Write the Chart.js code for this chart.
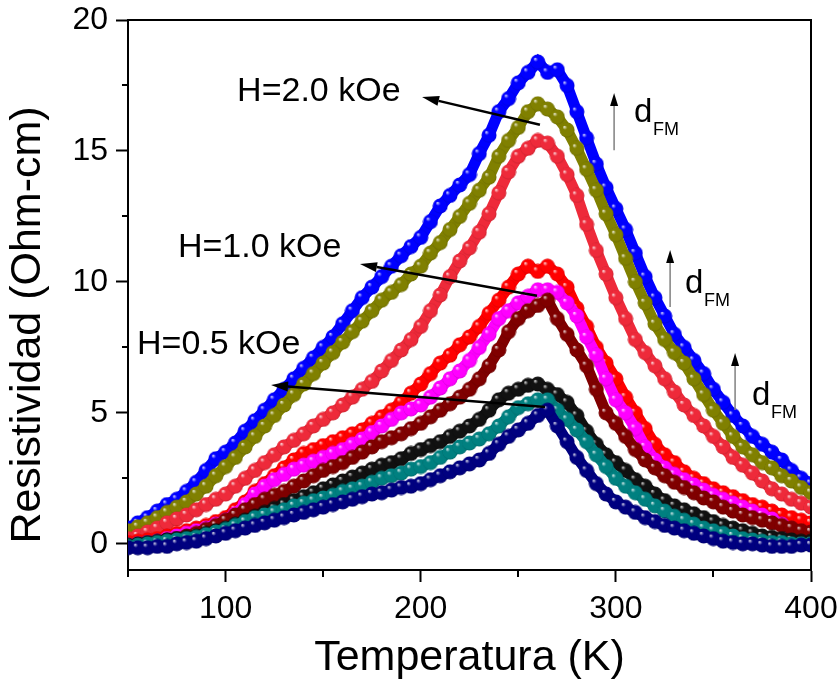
<!DOCTYPE html>
<html>
<head>
<meta charset="utf-8">
<script src="https://cdn.jsdelivr.net/npm/chart.js@4.4.1/dist/chart.umd.min.js"></script>
<style>
  body { margin: 0; background: #fff; }
  #wrap { width: 838px; height: 688px; }
</style>
</head>
<body>
<div id="wrap"><canvas id="rhoChart" width="838" height="688"></canvas></div>
<script>
// temperatures (K)
const tempK = [
  50, 55, 60, 65, 70, 75, 80, 85, 90, 95,
  100, 105, 110, 115, 120, 125, 130, 135, 140, 145,
  150, 155, 160, 165, 170, 175, 180, 185, 190, 195,
  200, 205, 210, 215, 220, 225, 230, 235, 240, 245,
  250, 255, 260, 265, 270, 275, 280, 285, 290, 295,
  300, 305, 310, 315, 320, 325, 330, 335, 340, 345,
  350, 355, 360, 365, 370, 375, 380, 385, 390, 395,
  400
];

// resistivity (Ohm-cm), one array per curve
const rhoBlue = [
  0.6, 0.8, 1.0, 1.25, 1.5, 1.7, 2.0, 2.35, 2.8, 3.25,
  3.5, 3.85, 4.3, 4.7, 5.1, 5.5, 5.9, 6.3, 6.7, 7.1,
  7.5, 7.9, 8.4, 8.9, 9.4, 9.8, 10.2, 10.6, 11.0, 11.35,
  11.7, 12.3, 12.9, 13.3, 13.7, 14.1, 14.9, 15.6, 16.5, 17.0,
  17.6, 18.0, 18.4, 18.0, 18.1, 17.5, 16.5, 15.5, 14.5, 13.6,
  12.8, 12.0, 11.1, 10.2, 9.4, 8.7, 8.0, 7.5, 7.0, 6.5,
  5.9, 5.4, 4.9, 4.5, 4.1, 3.8, 3.5, 3.2, 2.8, 2.5,
  2.3
];
const rhoOlive = [
  0.5, 0.65, 0.8, 1.0, 1.2, 1.4, 1.6, 1.9, 2.2, 2.6,
  2.95, 3.3, 3.7, 4.1, 4.5, 4.9, 5.3, 5.7, 6.1, 6.5,
  6.9, 7.3, 7.7, 8.1, 8.5, 8.9, 9.3, 9.6, 9.9, 10.3,
  10.6, 11.1, 11.5, 12.0, 12.5, 13.0, 13.5, 14.0, 14.8, 15.4,
  15.9, 16.5, 16.8, 16.6, 16.3, 15.8, 15.1, 14.3, 13.5, 12.6,
  11.8, 10.9, 10.0, 9.2, 8.4, 7.8, 7.3, 6.9, 6.3, 5.7,
  5.1, 4.6, 4.1, 3.7, 3.4, 3.1, 2.9, 2.6, 2.4, 2.15,
  1.95
];
const rhoSalmon = [
  0.2, 0.3, 0.45, 0.6, 0.8, 0.95, 1.1, 1.3, 1.5, 1.7,
  1.9, 2.2, 2.5, 2.8, 3.1, 3.4, 3.7, 3.95, 4.2, 4.5,
  4.75, 5.0, 5.3, 5.6, 5.9, 6.2, 6.6, 7.0, 7.4, 7.8,
  8.3, 8.9, 9.5, 10.2, 10.8, 11.3, 11.9, 12.6, 13.4, 14.2,
  14.8, 15.1, 15.4, 15.3, 14.8, 14.1, 13.3, 12.2, 11.2, 10.3,
  9.4, 8.6, 7.8, 7.3, 6.8, 6.3, 5.8, 5.3, 4.9, 4.5,
  4.1, 3.7, 3.3, 3.0, 2.7, 2.4, 2.1, 1.9, 1.7, 1.55,
  1.4
];
const rhoRed = [
  0.05, 0.1, 0.15, 0.2, 0.3, 0.4, 0.5, 0.6, 0.7, 0.85,
  1.0, 1.3, 1.6, 2.0, 2.3, 2.6, 2.9, 3.2, 3.45, 3.6,
  3.75, 3.9, 4.05, 4.2, 4.35, 4.6, 4.85, 5.1, 5.4, 5.75,
  6.1, 6.5, 6.9, 7.2, 7.6, 7.9, 8.3, 8.8, 9.3, 9.8,
  10.3, 10.6, 10.4, 10.6, 10.3, 9.8, 9.0, 8.3, 7.5, 6.9,
  6.3, 5.6, 5.0, 4.4, 3.8, 3.4, 3.1, 2.75, 2.5, 2.3,
  2.1, 1.95, 1.8, 1.65, 1.5, 1.4, 1.25, 1.1, 1.0, 0.9,
  0.8
];
const rhoMagenta = [
  -0.05, 0.0, 0.05, 0.1, 0.2, 0.3, 0.4, 0.5, 0.6, 0.75,
  0.9, 1.15, 1.5, 1.9, 2.2, 2.45, 2.65, 2.85, 3.0, 3.15,
  3.3, 3.45, 3.6, 3.8, 4.0, 4.25, 4.5, 4.75, 5.0, 5.15,
  5.3, 5.6, 5.95, 6.3, 6.6, 7.0, 7.5, 8.0, 8.6, 8.9,
  9.2, 9.45, 9.7, 9.7, 9.6, 9.2, 8.7, 7.9, 7.2, 6.3,
  5.5, 5.0, 4.4, 3.7, 3.2, 2.9, 2.65, 2.45, 2.25, 2.05,
  1.85, 1.7, 1.55, 1.4, 1.25, 1.1, 0.95, 0.75, 0.55, 0.4,
  0.3
];
const rhoMaroon = [
  -0.1, -0.05, 0.0, 0.05, 0.15, 0.2, 0.3, 0.4, 0.55, 0.7,
  0.9, 1.1, 1.3, 1.5, 1.7, 1.85, 2.0, 2.2, 2.4, 2.6,
  2.8, 2.95, 3.1, 3.3, 3.5, 3.7, 3.9, 4.05, 4.2, 4.4,
  4.6, 4.85, 5.1, 5.35, 5.6, 5.9, 6.3, 6.8, 7.4, 8.1,
  8.6, 8.9, 9.1, 9.3, 8.6, 8.0, 7.4, 6.8, 5.9, 5.0,
  4.6, 4.1, 3.6, 3.2, 2.9, 2.6, 2.35, 2.15, 1.95, 1.75,
  1.6, 1.4, 1.25, 1.1, 1.0, 0.9, 0.8, 0.7, 0.6, 0.5,
  0.45
];
const rhoBlack = [
  -0.05, 0.0, 0.05, 0.1, 0.15, 0.2, 0.25, 0.3, 0.4, 0.5,
  0.6, 0.75, 0.9, 1.05, 1.2, 1.35, 1.5, 1.65, 1.8, 1.95,
  2.1, 2.25, 2.4, 2.55, 2.7, 2.85, 3.0, 3.1, 3.25, 3.45,
  3.6, 3.75, 3.9, 4.1, 4.3, 4.5, 4.75, 5.1, 5.5, 5.75,
  5.9, 6.05, 6.1, 5.9, 5.7, 5.4, 4.9, 4.3, 3.8, 3.4,
  3.1, 2.8, 2.45, 2.2, 1.9, 1.65, 1.45, 1.3, 1.15, 1.0,
  0.85, 0.7, 0.6, 0.5, 0.4, 0.3, 0.25, 0.2, 0.15, 0.1,
  0.1
];
const rhoTeal = [
  -0.1, -0.05, 0.0, 0.05, 0.1, 0.15, 0.2, 0.25, 0.35, 0.45,
  0.55, 0.7, 0.85, 1.0, 1.1, 1.2, 1.3, 1.45, 1.55, 1.65,
  1.75, 1.85, 2.0, 2.1, 2.2, 2.35, 2.5, 2.6, 2.7, 2.85,
  2.95, 3.1, 3.3, 3.5, 3.7, 3.85, 4.0, 4.2, 4.5, 4.85,
  5.2, 5.35, 5.5, 5.5, 5.1, 4.75, 4.35, 3.9, 3.4, 2.95,
  2.5, 2.2, 1.95, 1.7, 1.45, 1.25, 1.05, 0.9, 0.75, 0.6,
  0.5, 0.4, 0.3, 0.2, 0.15, 0.1, 0.05, 0.05, 0.0, 0.0,
  0.0
];
const rhoNavy = [
  -0.15, -0.15, -0.15, -0.1, -0.1, 0.0, 0.05, 0.1, 0.2, 0.3,
  0.4, 0.5, 0.6, 0.7, 0.8, 0.9, 1.0, 1.1, 1.2, 1.3,
  1.4, 1.5, 1.6, 1.7, 1.8, 1.9, 1.95, 2.05, 2.15, 2.2,
  2.3, 2.45, 2.6, 2.75, 2.9, 3.05, 3.2, 3.45, 3.8, 4.1,
  4.35, 4.6, 4.9, 5.1, 4.5, 3.9, 3.3, 2.8, 2.3, 1.9,
  1.6, 1.4, 1.2, 1.0, 0.85, 0.7, 0.6, 0.5, 0.4, 0.3,
  0.2, 0.1, 0.05, 0.0, 0.0, -0.05, -0.1, -0.1, -0.1, -0.05,
  -0.05
];

const curves = [rhoBlue, rhoOlive, rhoSalmon, rhoRed, rhoMagenta, rhoMaroon, rhoBlack, rhoTeal, rhoNavy];
const curveColors = ["#0000ff", "#808000", "#ee2a3a", "#ff0000", "#ff00ff", "#800000", "#111111", "#008080", "#000080"];

// axis ticks
const xTicks = [100, 200, 300, 400];
const xMinor = [50, 150, 250, 350];
const yTicks = [0, 5, 10, 15, 20];
const yMinor = [2.5, 7.5, 12.5, 17.5];

// annotations, in data units
const fieldLabels = [
  { text: "H=2.0 kOe", x: 105.9, y: 17.25, tail: [261.1, 16.0], tip: [200.7, 17.06] },
  { text: "H=1.0 kOe", x: 75.6, y: 11.29, tail: [259.6, 9.47], tip: [168.9, 10.68] },
  { text: "H=0.5 kOe", x: 54.6, y: 7.59, tail: [263.7, 5.22], tip: [123.3, 6.06] }
];
const dfmMarks = [
  { x: 299.1, y0: 15.03, y1: 17.21, tx: 309.3, ty: 16.1 },
  { x: 327.8, y0: 9.04, y1: 11.22, tx: 335.4, ty: 9.58 },
  { x: 361.1, y0: 5.11, y1: 7.29, tx: 369.8, ty: 5.3 }
];

const FONT = "Arial, 'Liberation Sans', sans-serif";

function mix(hex, t) {
    // t > 0 mixes toward white, t < 0 toward black
    const n = parseInt(hex.slice(1), 16);
    let rgb = [(n >> 16) & 255, (n >> 8) & 255, n & 255];
    rgb = rgb.map(c => Math.round(t > 0 ? c + (255 - c) * t : c * (1 + t)));
    return "rgb(" + rgb.join(",") + ")";
}

function ball(color, r) {
    const c = document.createElement("canvas");
    const s = Math.ceil(r * 2 + 1);
    c.width = c.height = s;
    const g = c.getContext("2d");
    const cx = s / 2, cy = s / 2;
    const grad = g.createRadialGradient(cx - r * 0.4, cy - r * 0.45, 0, cx, cy, r);
    grad.addColorStop(0, "rgba(255,255,255,0.95)");
    grad.addColorStop(0.12, mix(color, 0.55));
    grad.addColorStop(0.3, color);
    grad.addColorStop(0.85, color);
    grad.addColorStop(1, mix(color, -0.15));
    g.fillStyle = grad;
    g.beginPath();
    g.arc(cx, cy, r, 0, Math.PI * 2);
    g.fill();
    return c;
}

function arrow(ctx, x0, y0, x1, y1, len, half) {
    const ang = Math.atan2(y1 - y0, x1 - x0);
    const bx = x1 - Math.cos(ang) * len, by = y1 - Math.sin(ang) * len;
    ctx.beginPath();
    ctx.moveTo(x0, y0);
    ctx.lineTo(bx, by);
    ctx.stroke();
    ctx.beginPath();
    ctx.moveTo(x1, y1);
    ctx.lineTo(bx + Math.sin(ang) * half, by - Math.cos(ang) * half);
    ctx.lineTo(bx - Math.sin(ang) * half, by + Math.cos(ang) * half);
    ctx.closePath();
    ctx.fill();
}

/*
 * frame, minor ticks, y title and annotations
 */
const extras = {
    id: "extras",
    afterDraw(chart) {
        const { ctx, chartArea: a, scales: { x, y } } = chart;
        ctx.save();
        ctx.strokeStyle = "#000";
        ctx.lineWidth = 2;
        ctx.beginPath();
        ctx.moveTo(a.left, a.top);
        ctx.lineTo(a.right, a.top);
        ctx.lineTo(a.right, a.bottom);
        ctx.stroke();

        ctx.beginPath();
        xMinor.forEach(v => {
            const px = Math.round(x.getPixelForValue(v));
            ctx.moveTo(px, a.bottom);
            ctx.lineTo(px, a.bottom + 7);
        });
        yMinor.forEach(v => {
            const py = Math.round(y.getPixelForValue(v));
            ctx.moveTo(a.left - 6, py);
            ctx.lineTo(a.left, py);
        });
        ctx.stroke();

        // y axis title
        ctx.save();
        ctx.translate(28, (a.top + a.bottom) / 2 + 30);
        ctx.rotate(-Math.PI / 2);
        ctx.font = "43px " + FONT;
        ctx.fillStyle = "#000";
        ctx.textAlign = "center";
        ctx.textBaseline = "middle";
        ctx.fillText("Resistividad (Ohm-cm)", 0, 0);
        ctx.restore();

        // field labels with arrows
        ctx.fillStyle = "#000";
        ctx.strokeStyle = "#000";
        ctx.lineWidth = 2.5;
        ctx.font = "34px " + FONT;
        ctx.textAlign = "left";
        ctx.textBaseline = "middle";
        fieldLabels.forEach(f => {
            ctx.fillText(f.text, x.getPixelForValue(f.x), y.getPixelForValue(f.y));
            arrow(ctx,
                x.getPixelForValue(f.tail[0]), y.getPixelForValue(f.tail[1]),
                x.getPixelForValue(f.tip[0]), y.getPixelForValue(f.tip[1]), 17, 5);
        });

        // d_FM arrows
        ctx.textBaseline = "alphabetic";
        dfmMarks.forEach(m => {
            const px = x.getPixelForValue(m.x);
            ctx.strokeStyle = "#808080";
            ctx.lineWidth = 1.5;
            ctx.fillStyle = "#000";
            arrow(ctx, px, y.getPixelForValue(m.y0), px, y.getPixelForValue(m.y1), 13, 4);
            const tx = x.getPixelForValue(m.tx), ty = y.getPixelForValue(m.ty);
            ctx.font = "33px " + FONT;
            ctx.fillText("d", tx, ty);
            ctx.font = "18px " + FONT;
            ctx.fillText("FM", tx + 19, ty + 13);
        });
        ctx.restore();
    }
};

const datasets = curves.map((vals, i) => ({
    data: vals.map((v, k) => ({ x: tempK[k], y: v })),
    showLine: true,
    borderColor: curveColors[i],
    borderWidth: 11,
    pointStyle: ball(curveColors[i], 7.5),
    pointRadius: 7.5,
    order: curves.length - i
}));

new Chart(document.getElementById("rhoChart"), {
    type: "scatter",
    data: { datasets },
    plugins: [extras],
    options: {
        responsive: false,
        animation: false,
        layout: { padding: { top: 20, right: 27, left: 0, bottom: 0 } },
        plugins: { legend: { display: false }, tooltip: { enabled: false } },
        scales: {
            x: {
                type: "linear",
                min: 50,
                max: 400,
                afterBuildTicks: s => { s.ticks = xTicks.map(v => ({ value: v })); },
                afterFit: s => { s.height = 118; s.paddingLeft = 0; s.paddingRight = 0; },
                ticks: { color: "#000", font: { size: 32, family: FONT }, padding: 8, maxRotation: 0, autoSkip: false },
                grid: { drawOnChartArea: false, tickLength: 12, tickWidth: 2, tickColor: "#000" },
                border: { color: "#000", width: 2 },
                title: { display: true, text: "Temperatura (K)", color: "#000", font: { size: 43, family: FONT }, padding: { top: 0, bottom: 4 } }
            },
            y: {
                type: "linear",
                min: -1,
                max: 20,
                afterBuildTicks: s => { s.ticks = yTicks.map(v => ({ value: v })); },
                afterFit: s => { s.width = 128; s.paddingTop = 0; s.paddingBottom = 0; },
                ticks: { color: "#000", font: { size: 32, family: FONT }, padding: 8 },
                grid: { drawOnChartArea: false, tickLength: 12, tickWidth: 2, tickColor: "#000" },
                border: { color: "#000", width: 2 }
            }
        }
    }
});
</script>
</body>
</html>
